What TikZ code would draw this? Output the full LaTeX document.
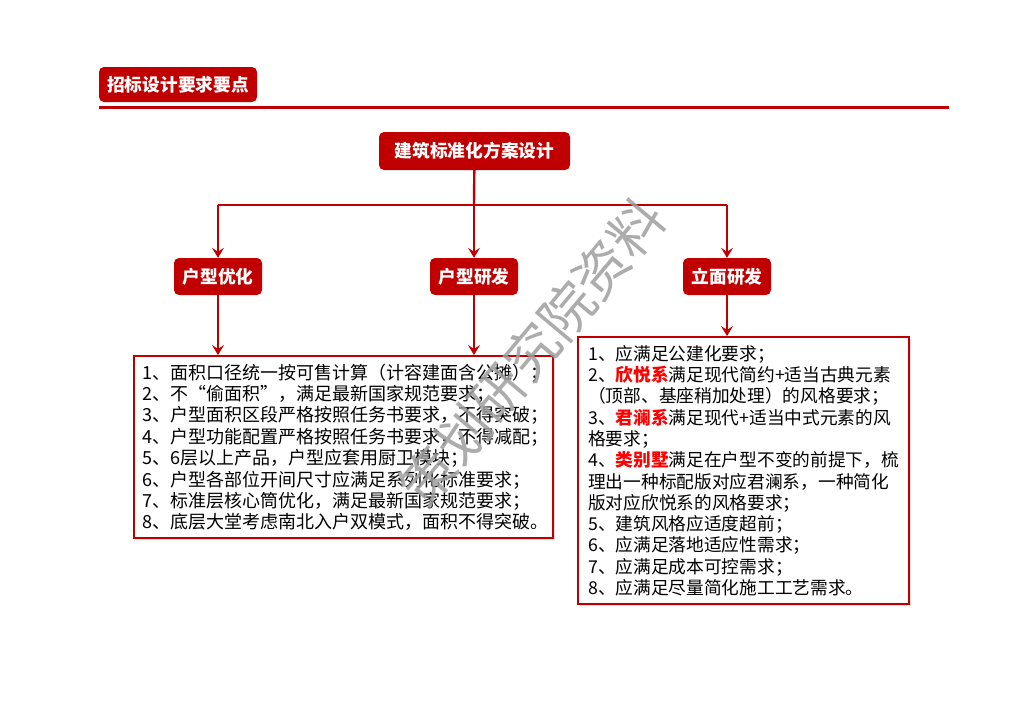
\documentclass[tikz,border=0pt]{standalone}
\usepackage{fontspec}
\setmainfont{Noto Sans CJK SC}
\usepackage{tikz}
\usetikzlibrary{arrows.meta,shadows}

\definecolor{darkred}{HTML}{C00000}
\definecolor{hotred}{HTML}{FF0000}
\newcommand{\hl}[1]{\textcolor{hotred}{\bfseries #1}}
\newcommand{\fw}[2][c]{\makebox[1em][#1]{#2}}

\tikzset{
  tag/.style={fill=darkred, rounded corners=5pt, text=white, font=\fontsize{17.7}{20}\selectfont\bfseries, inner sep=0pt},
  link/.style={draw=darkred, line width=2.4pt},
  arrow/.style={link, -{Stealth[length=10pt,width=12pt,inset=4pt]}},
  textbox/.style={draw=darkred, line width=2.4pt, fill=white, anchor=north west, align=left,
    font=\fontsize{17.7}{21.3}\selectfont, inner ysep=0pt,
    drop shadow={shadow xshift=1.5pt, shadow yshift=-1.5pt, opacity=0.25}}
}

\begin{document}
\begin{tikzpicture}[x=1pt,y=-1pt]
    \useasboundingbox[fill=white] (0,0) rectangle (1024,724);

    % heading
    \node[tag, minimum width=158, minimum height=35] (head) at (178,84.5) {招标设计要求要点};
    \draw[darkred, line width=3pt] (99,107) -- (949,107);

    % boxes
    \node[tag, minimum width=191, minimum height=38] (top) at (474.5,151) {建筑标准化方案设计};
    \node[tag, minimum width=88, minimum height=37] (opt) at (218,276.5) {户型优化};
    \node[tag, minimum width=88, minimum height=37] (dev) at (474,276.5) {户型研发};
    \node[tag, minimum width=88, minimum height=37] (fac) at (727,276.5) {立面研发};

    \node[textbox, text width=403, inner xsep=8, minimum height=182,
          font=\fontsize{18}{21.4}\selectfont] (left) at (133,355) {
      1、面积口径统一按可售计算\fw{（}计容建面含公摊\fw{）}；\\
      2、不\fw[r]{“}偷面积\fw[l]{”}，满足最新国家规范要求；\\
      3、户型面积区段严格按照任务书要求，不得突破；\\
      4、户型功能配置严格按照任务书要求，不得减配；\\
      5、6层以上产品，户型应套用厨卫模块；\\
      6、户型各部位开间尺寸应满足系列化标准要求；\\
      7、标准层核心筒优化，满足最新国家规范要求；\\
      8、底层大堂考虑南北入户双模式，面积不得突破。};

    \node[textbox, text width=311, inner xsep=10, minimum height=267] (right) at (577,336) {
      1、应满足公建化要求；\\
      2、\hl{欣悦系}满足现代简约+适当古典元素\\
      \fw{（}顶部、基座稍加处理\fw{）}的风格要求；\\
      3、\hl{君澜系}满足现代+适当中式元素的风\\
      格要求；\\
      4、\hl{类别墅}满足在户型不变的前提下，梳\\
      理出一种标配版对应君澜系，一种简化\\
      版对应欣悦系的风格要求；\\
      5、建筑风格应适度超前；\\
      6、应满足落地适应性需求；\\
      7、应满足成本可控需求；\\
      8、应满足尽量简化施工工艺需求。};

    % connectors
    \coordinate (bar) at (474,205);
    \draw[link] (top) -- (bar);
    \draw[link] (bar -| opt.north) -- (bar -| fac.north);
    \foreach \n in {opt,dev,fac}
      \draw[arrow] (bar -| \n.north) -- (\n.north);
    \draw[arrow] (opt) -- (opt |- left.north);
    \draw[arrow] (dev) -- (dev |- left.north);
    \draw[arrow] (fac) -- (fac |- right.north);

    % watermark
    \node[rotate=50, text=black!38, opacity=0.85, font=\fontsize{54}{54}\selectfont] (mark) at (532,352) {策划研究院资料};
\end{tikzpicture}
\end{document}
